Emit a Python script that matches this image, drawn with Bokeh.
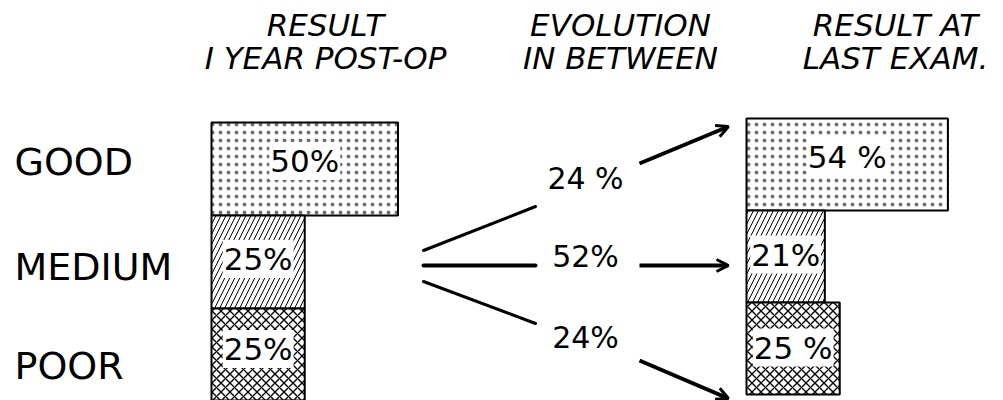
from bokeh.plotting import figure
from bokeh.models import Range1d, Arrow, OpenHead, ColumnDataSource
from bokeh.core.properties import value
from bokeh.embed import file_html
from bokeh.resources import INLINE

# ---------------- data ----------------
categories = ["GOOD", "MEDIUM", "POOR"]
result_1yr = [50, 25, 25]
result_last = [54, 21, 25]
evolution = [24, 52, 24]
labels_1yr = ["50%", "25%", "25%"]
labels_last = ["54 %", "21%", "25 %"]
labels_evo = ["24 %", "52%", "24%"]
header_1yr = ["RESULT", "I YEAR POST-OP"]
header_evo = ["EVOLUTION", "IN BETWEEN"]
header_last = ["RESULT AT", "LAST EXAM."]
patterns = ["dot", "right_diagonal_line", "diagonal_cross"]

# ---------------- layout (reference pixel frame) ----------------
W, H = 1003, 400
PX = 3.73          # pixels per percent point
X0L = 211          # left bar base (px)
X0R = 746          # right bar base (px)


def X(px):
    return (px - X0L) / PX


FONT = value("DejaVu Sans")

p = figure(width=W, height=H, output_backend="svg", toolbar_location=None,
           x_range=Range1d(X(0), X(W)), y_range=Range1d(H, 0),
           min_border=0, outline_line_color=None, background_fill_color="white",
           border_fill_color="white")
p.axis.visible = False
p.grid.visible = False

# rows
row_h = 93
left_y = [122 + row_h * (i + 0.5) for i in range(3)]
row_h_r = 92
right_y = [118 + row_h_r * (i + 0.5) for i in range(3)]

base_l = 0.0
base_r = X(X0R)

hscale = [8, 10, 9]
hweight = [0.6, 1.0, 1.4]
halpha = [0.55, 1.0, 1.0]
src_l = ColumnDataSource(dict(y=left_y, h=[row_h] * 3, left=[base_l] * 3,
                              right=[base_l + v for v in result_1yr],
                              hatch=patterns, scale=hscale, weight=hweight,
                              halpha=halpha))
src_r = ColumnDataSource(dict(y=right_y, h=[row_h_r] * 3, left=[base_r] * 3,
                              right=[base_r + v for v in result_last],
                              hatch=patterns, scale=hscale, weight=hweight,
                              halpha=halpha))
for src in (src_l, src_r):
    p.hbar(y="y", height="h", left="left", right="right", source=src,
           fill_color="white", line_color="black", line_width=2,
           hatch_pattern="hatch", hatch_color="black", hatch_scale="scale",
           hatch_weight="weight", hatch_alpha="halpha")

# value labels in bars
lab_dy = [-8, -3, -6]
p.text(x=[(l + r) / 2 for l, r in zip(src_l.data["left"], src_l.data["right"])],
       y=[y + d for y, d in zip(left_y, lab_dy)], text=labels_1yr,
       text_font=FONT, text_font_size="31px", text_align="center",
       text_baseline="middle", text_color="black",
       background_fill_color="white", background_fill_alpha=1.0, padding=1)
lab_dy_r = [-8, -2, -1]
p.text(x=[(l + r) / 2 for l, r in zip(src_r.data["left"], src_r.data["right"])],
       y=[y + d for y, d in zip(right_y, lab_dy_r)], text=labels_last,
       text_font=FONT, text_font_size="31px", text_align="center",
       text_baseline="middle", text_color="black",
       background_fill_color="white", background_fill_alpha=1.0, padding=1)

# category labels
p.text(x=[X(14)] * 3, y=[161, 266, 365], text=categories, text_font=FONT,
       text_font_size="38px", text_align="left",
       text_baseline="middle", text_color="black")

# headers
hx = [325, 620, 895]
for cx, hdr in zip(hx, [header_1yr, header_evo, header_last]):
    p.text(x=[X(cx)] * 2, y=[24, 57], text=hdr, text_font=FONT,
           text_font_size="31px", text_font_style="italic",
           text_align="center", text_baseline="middle", text_color="black")

# evolution labels
evo_x = 585
evo_y = [178, 256, 337]
p.text(x=[X(evo_x)] * 3, y=evo_y, text=labels_evo, text_font=FONT,
       text_font_size="30px", text_align="center",
       text_baseline="middle", text_color="black")

# split lines from the 1-year result
split_x0, split_x1 = 423, 535
split_y0 = [250, 265, 281]
split_y1 = [206, 265, 323]
for y0, y1, lw in zip(split_y0, split_y1, [3, 4, 3]):
    p.line(x=[X(split_x0), X(split_x1)], y=[y0, y1], line_color="black",
           line_width=lw, line_cap="round")

# arrows to the last exam
arr_x0, arr_x1 = 639, 728
arr_y0 = [163, 265, 360]
arr_y1 = [126, 265, 398]
for y0, y1 in zip(arr_y0, arr_y1):
    p.add_layout(Arrow(end=OpenHead(size=12, line_width=3, line_color="black"),
                       x_start=X(arr_x0), y_start=y0, x_end=X(arr_x1), y_end=y1,
                       line_width=4, line_color="black"))

open("out.html", "w").write(file_html(p, INLINE))
